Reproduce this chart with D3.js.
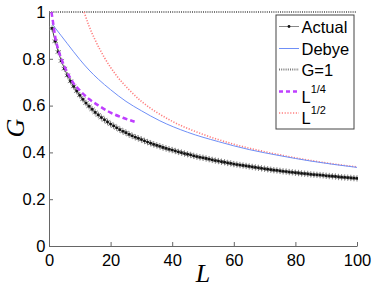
<!DOCTYPE html>
<html>
<head>
<meta charset="utf-8">
<script src="https://cdn.jsdelivr.net/npm/d3@7"></script>
<style>
  body { margin: 0; background: #fff; }
  svg { display: block; font-family: "Liberation Sans", Arial, sans-serif; }
  .axis path, .axis line { stroke: #666; }
  .axis text { font-size: 16.5px; fill: #000; }
</style>
</head>
<body>
<div id="chart"></div>
<script>
// Actual: G at L = 1..100
var actualL = d3.range(1, 101);
var actualG = [0.930, 0.875, 0.829, 0.791, 0.758, 0.729, 0.704, 0.682, 0.662, 0.644,
               0.627, 0.611, 0.597, 0.584, 0.571, 0.560, 0.549, 0.539, 0.530, 0.521,
               0.513, 0.505, 0.497, 0.490, 0.484, 0.477, 0.471, 0.465, 0.460, 0.455,
               0.449, 0.444, 0.439, 0.434, 0.430, 0.426, 0.421, 0.417, 0.413, 0.410,
               0.406, 0.402, 0.399, 0.395, 0.392, 0.389, 0.385, 0.382, 0.379, 0.377,
               0.374, 0.371, 0.368, 0.365, 0.363, 0.360, 0.358, 0.355, 0.353, 0.350,
               0.348, 0.346, 0.344, 0.342, 0.340, 0.338, 0.336, 0.334, 0.332, 0.330,
               0.328, 0.326, 0.324, 0.323, 0.321, 0.319, 0.318, 0.316, 0.315, 0.313,
               0.312, 0.310, 0.309, 0.308, 0.306, 0.305, 0.304, 0.303, 0.302, 0.300,
               0.299, 0.298, 0.297, 0.295, 0.294, 0.293, 0.292, 0.291, 0.290, 0.289];

// Debye
var debyeL = [1, 2, 4, 6, 8, 10, 13, 16, 20, 25, 30, 36, 45, 55, 65, 75, 85, 100];
var debyeG = [0.950, 0.932, 0.898, 0.864, 0.830, 0.797, 0.752, 0.713, 0.668, 0.618,
              0.578, 0.535, 0.486, 0.446, 0.412, 0.386, 0.363, 0.336];

// L^(1/4)
var quarterL = [0.8, 1.5, 2, 3, 4, 6, 8, 10, 13, 16, 20, 24, 27.8];
var quarterG = [1.0, 0.94, 0.895, 0.84, 0.80, 0.74, 0.695, 0.665, 0.628, 0.601, 0.570, 0.548, 0.531];

// L^(1/2)
var halfL = [11.4, 13, 15, 18, 22, 26, 30, 35, 40, 50, 60, 70, 80, 90, 100];
var halfG = [1.0, 0.94, 0.88, 0.805, 0.727, 0.668, 0.618, 0.571, 0.533, 0.477, 0.435, 0.403, 0.377, 0.355, 0.338];

var xTicks = [0, 20, 40, 60, 80, 100];
var yTicks = [0, 0.2, 0.4, 0.6, 0.8, 1];

var legendNames = ["Actual", "Debye", "G=1", "L", "L"];
var legendSup = ["", "", "", "1/4", "1/2"];

var W = 374, H = 288;
var x = d3.scaleLinear().domain([0, 100]).range([49, 357]);
var y = d3.scaleLinear().domain([0, 1]).range([246, 12]);

var svg = d3.select("#chart").append("svg")
    .attr("width", W)
    .attr("height", H);

svg.append("defs").append("clipPath").attr("id", "clip")
    .append("rect").attr("x", 49).attr("y", 11).attr("width", 309).attr("height", 235);

var zip = function(xs, ys) { return xs.map(function(v, i) { return [v, ys[i]]; }); };
var line = d3.line().x(function(d) { return x(d[0]); }).y(function(d) { return y(d[1]); });
var smooth = d3.line().curve(d3.curveMonotoneX).x(function(d) { return x(d[0]); }).y(function(d) { return y(d[1]); });

// axes, ticks pointing inward
var xAxis = d3.axisBottom(x).tickValues(xTicks).tickFormat(d3.format("d"))
    .tickSizeInner(-4).tickSizeOuter(0).tickPadding(8);
var yAxis = d3.axisLeft(y).tickValues(yTicks).tickFormat(function(d) { return d === 0 || d === 1 ? d : d3.format(".1f")(d); })
    .tickSizeInner(-4).tickSizeOuter(0).tickPadding(3.5);

svg.append("g").attr("class", "x axis")
    .attr("transform", "translate(0,246)")
    .call(xAxis);
svg.append("g").attr("class", "y axis")
    .attr("transform", "translate(49,0)")
    .call(yAxis);

var plot = svg.append("g").attr("clip-path", "url(#clip)");

// G = 1
plot.append("path")
    .datum([[0, 1], [100, 1]])
    .attr("d", line)
    .attr("fill", "none").attr("stroke", "#777").attr("stroke-width", 2)
    .attr("stroke-dasharray", "1,1.2");

// L^(1/2)
plot.append("path")
    .datum(zip(halfL, halfG))
    .attr("d", smooth)
    .attr("fill", "none").attr("stroke", "#ff7f7f").attr("stroke-width", 1.6)
    .attr("stroke-dasharray", "1.2,1.6");

// Debye
plot.append("path")
    .datum(zip(debyeL, debyeG))
    .attr("d", smooth)
    .attr("fill", "none").attr("stroke", "#6f8ff7").attr("stroke-width", 1);

// Actual
var actual = zip(actualL, actualG);
plot.append("path")
    .datum(actual)
    .attr("d", line)
    .attr("fill", "none").attr("stroke", "#444").attr("stroke-width", 1);
var star = d3.symbol().type(d3.symbolAsterisk).size(28);
plot.selectAll(".mk").data(actual).enter().append("path")
    .attr("class", "mk")
    .attr("transform", function(d) { return "translate(" + x(d[0]) + "," + y(d[1]) + ")"; })
    .attr("d", star)
    .attr("fill", "none").attr("stroke", "#888").attr("stroke-width", 1);
plot.selectAll(".dot").data(actual).enter().append("circle")
    .attr("class", "dot")
    .attr("cx", function(d) { return x(d[0]); })
    .attr("cy", function(d) { return y(d[1]); })
    .attr("r", 1.4).attr("fill", "#111");

// L^(1/4)
plot.append("path")
    .datum(zip(quarterL, quarterG))
    .attr("d", smooth)
    .attr("fill", "none").attr("stroke", "#bf3fff").attr("stroke-width", 2.5)
    .attr("stroke-dasharray", "5,3");

// axis labels
svg.append("text")
    .attr("transform", "translate(24,128) rotate(-90)")
    .attr("text-anchor", "middle")
    .style("font-family", "'Liberation Serif', 'DejaVu Serif', serif")
    .style("font-style", "italic")
    .style("font-size", "26px")
    .text("G");
svg.append("text")
    .attr("x", 203).attr("y", 282)
    .attr("text-anchor", "middle")
    .style("font-family", "'Liberation Serif', 'DejaVu Serif', serif")
    .style("font-style", "italic")
    .style("font-size", "26px")
    .text("L");

// legend
var lg = svg.append("g").attr("transform", "translate(276,15)");
lg.append("rect").attr("width", 78).attr("height", 114)
    .attr("fill", "#fff").attr("stroke", "#444").attr("stroke-width", 1);

var rowY = [11.5, 33.5, 54.5, 76.5, 98];
var styles = [
  {stroke: "#888", width: 1, dash: null},
  {stroke: "#6f8ff7", width: 1, dash: null},
  {stroke: "#777", width: 2, dash: "1,1.2"},
  {stroke: "#bf3fff", width: 2.5, dash: "4,3"},
  {stroke: "#ff7f7f", width: 1.6, dash: "1.2,1.6"}
];
legendNames.forEach(function(name, i) {
  var s = styles[i];
  lg.append("line")
      .attr("x1", 3).attr("x2", 23).attr("y1", rowY[i]).attr("y2", rowY[i])
      .attr("stroke", s.stroke).attr("stroke-width", s.width)
      .attr("stroke-dasharray", s.dash);
  if (i === 0) {
    lg.append("circle").attr("cx", 13).attr("cy", rowY[i]).attr("r", 1.4).attr("fill", "#111");
  }
  var t = lg.append("text")
      .attr("x", 25.5)
      .attr("y", rowY[i] + (legendSup[i] ? 11 : 6))
      .style("font-size", "16.5px")
      .text(name);
  if (legendSup[i]) {
    t.append("tspan")
        .attr("dy", -10)
        .style("font-size", "11px")
        .text(legendSup[i]);
  }
});
</script>
</body>
</html>
